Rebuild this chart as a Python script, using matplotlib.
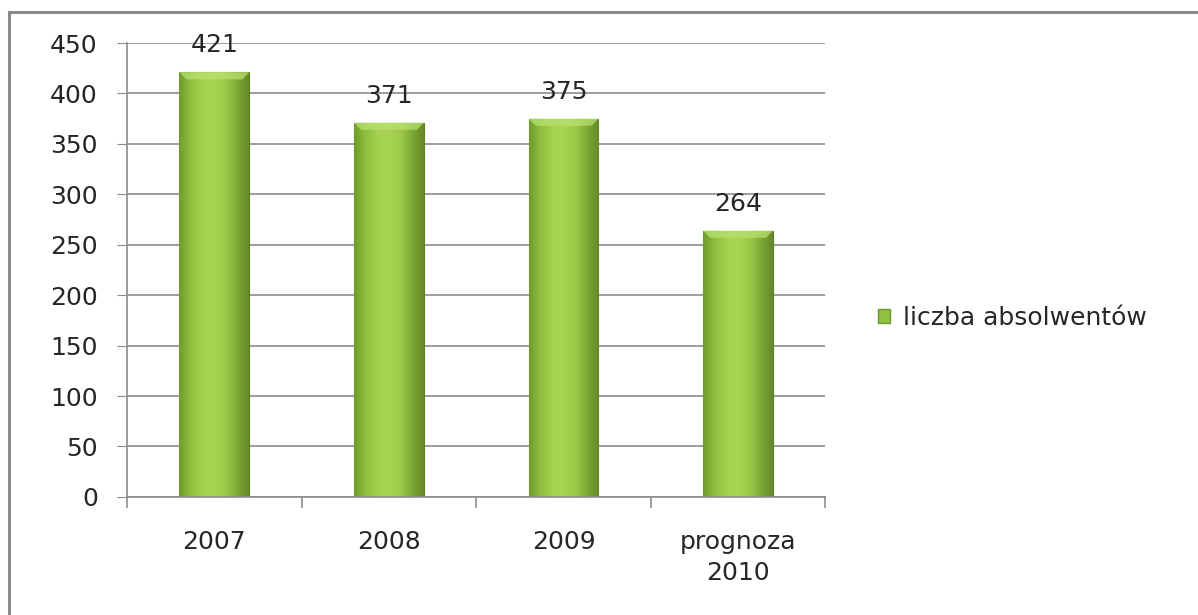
import matplotlib.pyplot as plt
import numpy as np
from matplotlib.colors import LinearSegmentedColormap
from matplotlib.lines import Line2D
from matplotlib.patches import Patch

kategorie = ["2007", "2008", "2009", "prognoza\n2010"]
wartosci = [421, 371, 375, 264]
nazwa_serii = "liczba absolwentów"
ticki_y = [0, 50, 100, 150, 200, 250, 300, 350, 400, 450]

plt.rcParams['font.family'] = ['DejaVu Sans']

fig = plt.figure(figsize=(11.98, 6.15), dpi=100)
ax = fig.add_axes([0.106, 0.192, 0.583, 0.738])

x = np.arange(len(kategorie))
bary = ax.bar(x, wartosci, width=0.4, color="#93c043", edgecolor="#5f7f25",
              linewidth=0.8, zorder=2, label=nazwa_serii)

# cieniowanie słupków (gradient poziomy)
cmap = LinearSegmentedColormap.from_list(
    "ziel", ["#6f9a2a", "#8fbf3e", "#a4d14f", "#a8d453", "#9dca49", "#7ea935", "#64892a"])
grad = np.linspace(0, 1, 256).reshape(1, -1)
for b in bary:
    x0, w, h = b.get_x(), b.get_width(), b.get_height()
    im = ax.imshow(grad, cmap=cmap, aspect="auto", extent=[x0, x0 + w, 0, h],
                   zorder=2.1)
    im.set_clip_path(b)
    # górna jaśniejsza krawędź
    ax.fill([x0, x0 + w, x0 + w - 0.04, x0 + 0.04], [h, h, h - 7, h - 7],
            color="#b8e070", alpha=0.75, zorder=2.2, linewidth=0)

for xi, v in zip(x, wartosci):
    ax.text(xi, v + 15, str(v), ha="center", va="bottom", fontsize=18,
            color="#262626")

ax.set_xlim(-0.5, len(kategorie) - 0.5)
ax.set_ylim(0, 450)
ax.set_yticks(ticki_y)
ax.set_xticks(x)
ax.set_xticklabels(kategorie, fontsize=18, color="#262626", linespacing=1.35)
ax.tick_params(axis="y", labelsize=18, labelcolor="#262626", length=7,
               color="#8c8c8c", pad=14)
ax.tick_params(axis="x", length=0, pad=24)
# ticki między kategoriami
for granica in np.arange(-0.5, len(kategorie), 1.0):
    ax.plot([granica, granica], [0, -10], color="#8c8c8c", lw=1.2,
            clip_on=False, zorder=3)

ax.yaxis.grid(True, color="#959595", linewidth=1.3, zorder=0)
ax.set_axisbelow(True)
for s in ["top", "right"]:
    ax.spines[s].set_visible(False)
ax.spines["left"].set_color("#8c8c8c")
ax.spines["bottom"].set_color("#8c8c8c")
ax.spines["left"].set_linewidth(1.2)
ax.spines["bottom"].set_linewidth(1.2)

uchwyt = Patch(facecolor="#8fc040", edgecolor="#6f9a2a")
fig.legend([uchwyt], [nazwa_serii], loc="center left",
           bbox_to_anchor=(0.714, 0.483), frameon=False, fontsize=18,
           handlelength=0.5, handleheight=0.5, handletextpad=0.5,
           labelcolor="#262626")

# ramka wykresu
fig.add_artist(Line2D([9 / 1198, 9 / 1198], [0, 1 - 12 / 615],
                      color="#8a8a8a", lw=2.2, transform=fig.transFigure))
fig.add_artist(Line2D([9 / 1198, 1], [1 - 12 / 615, 1 - 12 / 615],
                      color="#8a8a8a", lw=2.2, transform=fig.transFigure))

fig.savefig("out.png", dpi=100)
